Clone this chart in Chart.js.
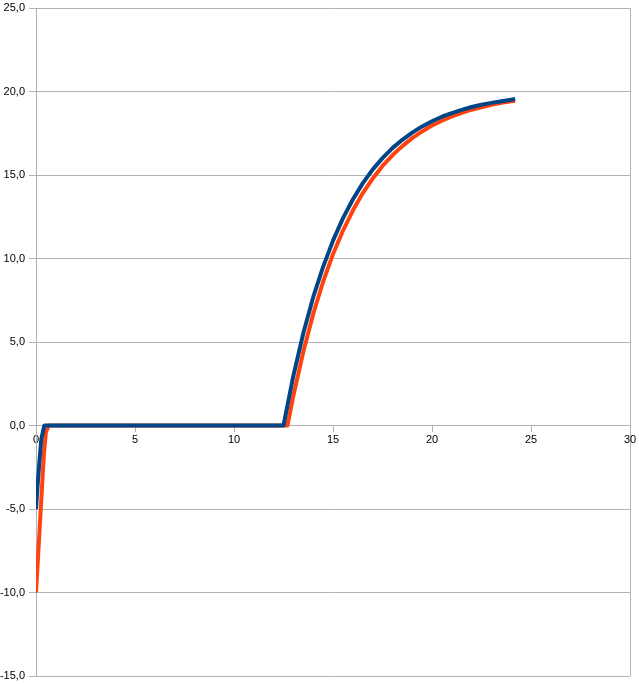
<!DOCTYPE html>
<html>
<head>
<meta charset="utf-8">
<script src="https://cdn.jsdelivr.net/npm/chart.js@4/dist/chart.umd.min.js"></script>
<style>
  html, body { margin: 0; padding: 0; background: #ffffff; }
  #wrap { width: 639px; height: 684px; }
</style>
</head>
<body>
<div id="wrap"><canvas id="chart"></canvas></div>
<script>
// Serie 1 (blu)
const blueX = [0, 0.08, 0.17, 0.27, 0.42, 12.5, 13.0, 13.5, 14.0, 14.5, 15.0, 15.5, 16.0, 16.5, 17.0, 17.5,
  18.0, 18.5, 19.0, 19.5, 20.0, 20.5, 21.0, 21.5, 22.0, 22.5, 23.0, 23.5, 24.0, 24.2];
const blueY = [-5, -3.6, -2.2, -0.8, 0, 0, 2.98, 5.52, 7.68, 9.50, 11.07, 12.40, 13.53, 14.50, 15.32, 16.01,
  16.61, 17.11, 17.54, 17.91, 18.22, 18.49, 18.71, 18.90, 19.07, 19.21, 19.32, 19.42, 19.51, 19.55];

// Serie 2 (rossa)
const redX = [0, 0.12, 0.24, 0.4, 0.5, 0.65, 12.7, 13.0, 13.5, 14.0, 14.5, 15.0, 15.5, 16.0, 16.5, 17.0, 17.5,
  18.0, 18.5, 19.0, 19.5, 20.0, 20.5, 21.0, 21.5, 22.0, 22.5, 23.0, 23.5, 24.0, 24.2];
const redY = [-10, -7.5, -5, -1.7, -0.4, 0, 0, 1.79, 4.42, 6.68, 8.61, 10.26, 11.66, 12.87, 13.90, 14.78, 15.54,
  16.18, 16.73, 17.21, 17.61, 17.96, 18.25, 18.51, 18.72, 18.91, 19.06, 19.20, 19.32, 19.41, 19.45];

// Assi
const xTicks = [0, 5, 10, 15, 20, 25, 30];
const yTicks = [-15, -10, -5, 0, 5, 10, 15, 20, 25];

const GRID = '#b3b3b3';
const FONT = { family: '"Liberation Sans", Arial, sans-serif', size: 11 };

const toPoints = (xs, ys) => xs.map((x, i) => ({ x, y: ys[i] }));

new Chart(document.getElementById('chart'), {
  type: 'scatter',
  data: {
    datasets: [
      {
        label: 'Serie 1',
        data: toPoints(blueX, blueY),
        showLine: true,
        borderColor: '#004586',
        borderWidth: 4,
        pointRadius: 0,
        tension: 0,
        borderJoinStyle: 'round',
      },
      {
        label: 'Serie 2',
        data: toPoints(redX, redY),
        showLine: true,
        borderColor: '#ff420e',
        borderWidth: 4,
        pointRadius: 0,
        tension: 0,
        borderJoinStyle: 'round',
      },
    ],
  },
  options: {
    responsive: true,
    maintainAspectRatio: false,
    animation: false,
    layout: { padding: { top: 8, bottom: 8, right: 9, left: 0 } },
    plugins: {
      legend: { display: false },
      tooltip: { enabled: false },
    },
    scales: {
      x: {
        type: 'linear',
        position: { y: 0 },
        min: 0,
        max: 30,
        afterBuildTicks: s => { s.ticks = xTicks.map(v => ({ value: v })); },
        afterFit: s => { s.paddingLeft = 0; s.paddingRight = 0; },
        grid: {
          color: c => (c.tick && c.tick.value === 30 ? GRID : 'rgba(0,0,0,0)'),
          tickColor: GRID,
          tickLength: 6,
          drawOnChartArea: true,
        },
        border: { color: GRID, width: 1 },
        ticks: { color: '#000', font: FONT, padding: 2, maxRotation: 0 },
      },
      y: {
        type: 'linear',
        position: 'left',
        min: -15,
        max: 25,
        afterBuildTicks: s => { s.ticks = yTicks.map(v => ({ value: v })); },
        afterFit: s => { s.width = 36; s.paddingTop = 0; s.paddingBottom = 0; },
        grid: { color: GRID, tickColor: GRID, tickLength: 7 },
        border: { color: GRID, width: 1 },
        ticks: {
          color: '#000',
          font: FONT,
          padding: 4,
          callback: v => v.toFixed(1).replace('.', ','),
        },
      },
    },
  },
});
</script>
</body>
</html>
